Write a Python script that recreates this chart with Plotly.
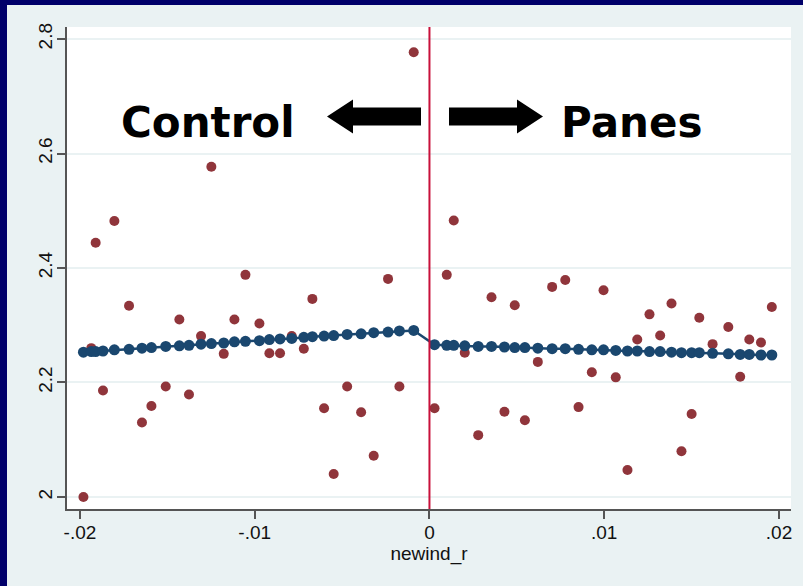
import plotly.graph_objects as go

# binned means (red) and fitted values (blue), control side then panes side
x_left = [-0.0198, -0.01935, -0.0191, -0.01868, -0.01803, -0.01719, -0.01645, -0.01591,
          -0.01509, -0.01431, -0.01376, -0.01307, -0.01248, -0.01177, -0.01116, -0.01053,
          -0.00973, -0.00916, -0.00855, -0.00788, -0.00719, -0.0067, -0.00603, -0.00548,
          -0.00471, -0.00391, -0.00319, -0.00237, -0.00172, -0.0009]
y_left = [2.000, 2.260, 2.444, 2.186, 2.482, 2.334, 2.130, 2.159,
          2.193, 2.310, 2.179, 2.281, 2.577, 2.250, 2.310, 2.388,
          2.303, 2.251, 2.251, 2.281, 2.259, 2.346, 2.155, 2.040,
          2.193, 2.148, 2.072, 2.381, 2.193, 2.777]
fit_left = [2.253, 2.254, 2.254, 2.255, 2.257, 2.258, 2.260, 2.261,
            2.263, 2.264, 2.265, 2.267, 2.268, 2.269, 2.271, 2.272,
            2.273, 2.275, 2.276, 2.277, 2.279, 2.280, 2.281, 2.282,
            2.284, 2.285, 2.287, 2.288, 2.290, 2.291]

x_right = [0.00029, 0.00099, 0.00139, 0.00202, 0.00279, 0.00355, 0.00429, 0.00488,
           0.00546, 0.0062, 0.00702, 0.00777, 0.00853, 0.00929, 0.00996, 0.01066,
           0.01133, 0.01189, 0.01259, 0.0132, 0.01385, 0.01442, 0.015, 0.01544,
           0.0162, 0.0171, 0.01778, 0.0183, 0.01897, 0.01959]
y_right = [2.155, 2.388, 2.483, 2.252, 2.108, 2.349, 2.149, 2.335,
           2.134, 2.236, 2.367, 2.379, 2.157, 2.218, 2.361, 2.209,
           2.047, 2.275, 2.319, 2.282, 2.338, 2.080, 2.145, 2.313,
           2.267, 2.297, 2.210, 2.275, 2.270, 2.332]
fit_right = [2.266, 2.265, 2.265, 2.264, 2.263, 2.263, 2.262, 2.261,
             2.261, 2.260, 2.259, 2.259, 2.258, 2.257, 2.257, 2.256,
             2.255, 2.255, 2.254, 2.254, 2.253, 2.252, 2.252, 2.252,
             2.251, 2.250, 2.249, 2.249, 2.248, 2.248]

x_ticks = [-0.02, -0.01, 0, 0.01, 0.02]
x_ticktext = ["-.02", "-.01", "0", ".01", ".02"]
y_ticks = [2, 2.2, 2.4, 2.6, 2.8]
y_ticktext = ["2", "2.2", "2.4", "2.6", "2.8"]

W, H = 803, 586
L, R, T, B = 67, 12, 27, 77
BG = "#EAF2F3"
NAVY = "#00006A"
MAROON = "#90353B"
BLUE = "#1A476F"


def px(x):
    return (x - L) / (W - L - R)


def py(y):
    return (H - B - y) / (H - T - B)


fig = go.Figure()
fig.add_trace(go.Scatter(
    x=x_left + x_right, y=y_left + y_right, mode="markers",
    marker=dict(color=MAROON, size=10), showlegend=False,
))
fig.add_trace(go.Scatter(
    x=x_left + x_right, y=fit_left + fit_right, mode="lines+markers",
    line=dict(color=BLUE, width=2.5), marker=dict(color=BLUE, size=11),
    showlegend=False,
))

shapes = [
    # navy frame on left and top
    dict(type="rect", xref="paper", yref="paper", x0=px(0), x1=px(7), y0=py(H), y1=py(0),
         fillcolor=NAVY, line_width=0, layer="below"),
    dict(type="rect", xref="paper", yref="paper", x0=px(0), x1=px(W), y0=py(5), y1=py(0),
         fillcolor=NAVY, line_width=0, layer="below"),
    # cutoff line
    dict(type="line", xref="x", yref="paper", x0=0, x1=0, y0=0, y1=1,
         line=dict(color="#C8103A", width=2)),
]


def arrow(tip, back, shaft_end):
    # filled arrow in pixel space -> paper path
    ty = 116.5
    pts = [(tip, ty), (back, 99.5), (back, 107.5), (shaft_end, 107.5),
           (shaft_end, 125.5), (back, 125.5), (back, 133.5)]
    return "M " + " L ".join(f"{px(a):.5f},{py(b):.5f}" for a, b in pts) + " Z"


shapes.append(dict(type="path", xref="paper", yref="paper", path=arrow(327, 353, 421),
                   fillcolor="black", line_width=0))
shapes.append(dict(type="path", xref="paper", yref="paper", path=arrow(543, 517, 449),
                   fillcolor="black", line_width=0))

big = dict(family="DejaVu Sans", size=42, color="black")
annotations = [
    dict(text="<b>Control</b>", xref="paper", yref="paper", x=px(208), y=py(123),
         showarrow=False, font=big, xanchor="center", yanchor="middle"),
    dict(text="<b>Panes</b>", xref="paper", yref="paper", x=px(631), y=py(123),
         showarrow=False, font=big, xanchor="center", yanchor="middle"),
]

fig.update_layout(
    width=W, height=H, autosize=False,
    margin=dict(l=L, r=R, t=T, b=B, pad=0),
    paper_bgcolor=BG, plot_bgcolor="white",
    font=dict(family="Liberation Sans, Arial", size=19, color="#111111"),
    shapes=shapes, annotations=annotations,
)
fig.update_xaxes(
    range=[-0.02074, 0.020687], tickvals=x_ticks, ticktext=x_ticktext,
    showgrid=False, zeroline=False, showline=True, linecolor="#555555", linewidth=1.5,
    ticks="outside", ticklen=8, tickcolor="#555555", tickwidth=1.5,
    ticklabelstandoff=-3,
    title=dict(text="newind_r", font=dict(size=19), standoff=0),
)
fig.update_yaxes(
    range=[1.979, 2.821], tickvals=y_ticks, ticktext=y_ticktext, tickangle=-90,
    showgrid=True, gridcolor=BG, gridwidth=2, zeroline=False,
    showline=True, linecolor="#555555", linewidth=1.5,
    ticks="outside", ticklen=8, tickcolor="#555555", tickwidth=1.5,
    ticklabelstandoff=-2,
)

fig.write_html(
    "out.html",
    config={"displayModeBar": False},
    post_script=(
        "document.body.style.margin='0';"
        "document.body.style.overflow='hidden';"
        "document.body.style.background='" + BG + "';"
    ),
)
